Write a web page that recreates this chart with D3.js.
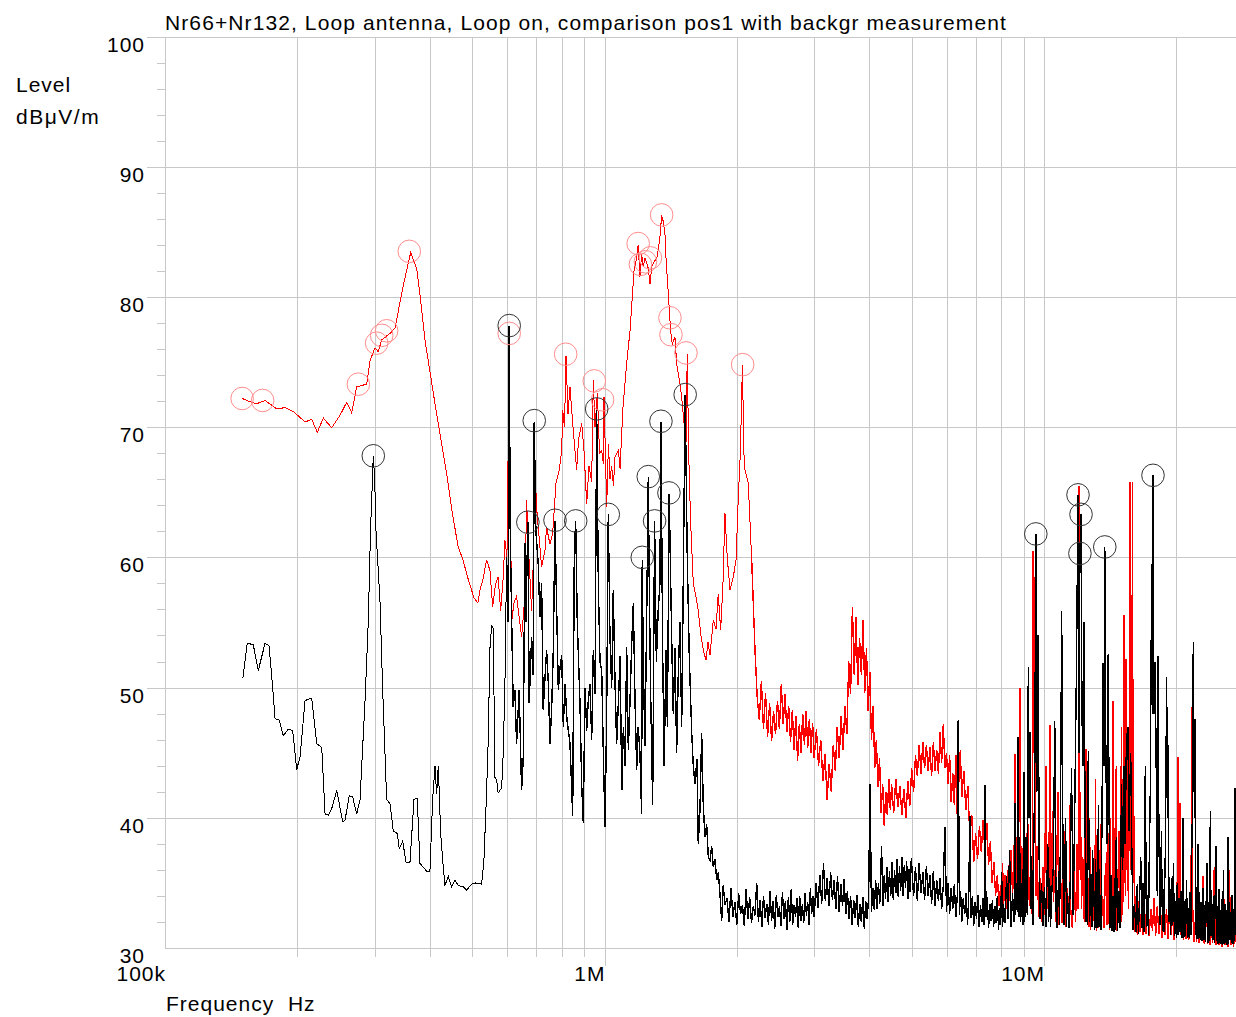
<!DOCTYPE html>
<html>
<head>
<meta charset="utf-8">
<script src="https://cdn.jsdelivr.net/npm/d3@7"></script>
<style>
html,body{margin:0;padding:0;background:#fff;}
svg{display:block;font-family:"Liberation Sans",Arial,sans-serif;}
text{white-space:pre;}
</style>
</head>
<body>
<script>
// chart texts
const title = "Nr66+Nr132, Loop antenna, Loop on, comparison pos1 with backgr measurement"
const yLabel = ["Level", "dBμV/m"]
const xLabel = "Frequency  Hz"
const yMajor = [30, 40, 50, 60, 70, 80, 90, 100]
const xLabels = [[0.1, "100k"], [1, "1M"], [10, "10M"]]

// [MHz, dBµV/m]  -- pos1 measurement (red)
const redLow = [[0.1500,72.2],[0.1575,71.9],[0.1617,71.8],[0.1689,72.05],[0.1796,71.4],[0.1876,71.5],[0.1959,71.2],[0.2083,70.4],[0.2157,70.6],[0.2221,69.6],[0.2292,70.7],[0.2395,69.95],[0.2501,70.9],[0.2590,71.9],[0.2660,71.1],[0.2730,73.1],[0.2877,73.3],[0.2927,75.1],[0.3005,76.1],[0.3056,75.8],[0.3112,76.7],[0.3250,77.2],[0.3337,77.6],[0.3485,80.9],[0.3622,83.4],[0.3737,82.2],[0.3803,80.2],[0.3904,76.7],[0.4150,71.0],[0.4374,66.4],[0.4497,63.6],[0.4639,60.9],[0.4763,59.8],[0.4889,58.4],[0.5045,56.9],[0.5152,56.5],[0.5207,57.5],[0.5289,58.3],[0.5392,59.8],[0.5487,59.0],[0.5565,56.2],[0.5648,57.9],[0.5728,58.5],[0.5803,55.9],[0.5883,58.5],[0.5936,61.3],[0.5998,60.0]]
const redMid = [[0.6044,70],[0.6070,77.2],[0.6102,66],[0.6147,55.0],[0.6221,56.5],[0.6309,57.0],[0.6395,55.4],[0.6477,53.9],[0.6591,57.0],[0.6649,64.4],[0.6705,61.1],[0.6826,55.9],[0.6883,59.5],[0.6945,67.7],[0.7000,64.0],[0.7067,62.3],[0.7193,59.3],[0.7319,60.5],[0.7383,62.3],[0.7516,61.0],[0.7623,61.9],[0.7756,65.7],[0.7891,66.7],[0.7991,68.2],[0.8033,71.3],[0.8110,70.0],[0.8173,75.5],[0.8259,71],[0.8346,73.1],[0.8465,70.3],[0.8568,68.2],[0.8644,66.7],[0.8725,69],[0.8874,70.3],[0.8982,68.2],[0.9109,64.1],[0.9220,67],[0.9351,65.8],[0.9430,73.6],[0.9515,70],[0.9633,72.6],[0.9742,68],[0.9855,68.2],[0.9938,67.2],[0.9974,72.3],[1.0115,63.9],[1.0209,68.7],[1.029,66.0],[1.0383,67.0],[1.0480,65.5],[1.0564,67.7],[1.0758,68.2],[1.085,66.8],[1.1004,71.3],[1.1232,74.9],[1.143,77.4],[1.1592,80.5],[1.1672,82.0],[1.1838,83.05],[1.1930,84.0],[1.204,81.5],[1.2148,83.3],[1.2251,82.3],[1.2360,83.0],[1.2577,82.2],[1.269,81.0],[1.2804,82.3],[1.3028,82.8],[1.3184,83.1],[1.337,84.6],[1.349,86.25],[1.3604,85.8],[1.3726,84.85],[1.3798,83.1],[1.389,81.5],[1.4034,79.2],[1.4142,77.4],[1.4262,76.4],[1.4465,76.9],[1.4593,74.9],[1.485,73.3],[1.4984,72.3],[1.5165,70.3],[1.5325,68.7],[1.5428,75.6],[1.5538,68.2],[1.569,63],[1.5924,58.0],[1.6149,57],[1.6343,55.9],[1.6577,54.0],[1.6779,52.9],[1.7017,52.1],[1.7196,53.5],[1.738,52.5],[1.7684,55.2],[1.7936,54.5],[1.8147,57.2],[1.8378,54.4],[1.860,58],[1.8797,63.4],[1.9022,60.0],[1.930,57.5],[1.9638,58.5],[1.9918,59.8],[2.0149,64.4],[2.0383,68.2],[2.0598,74.8],[2.0761,68],[2.0871,66.7],[2.1237,65.7],[2.1623,59.8]]
const redHigh = [[2.200,52.9],[2.225,49.3],[2.25,47.5],[2.275,50.5],[2.30,46.8],[2.325,49.6],[2.35,46.2],[2.375,48.8],[2.40,45.9],[2.425,48.2],[2.45,46.4],[2.475,49.0],[2.50,46.8],[2.525,50.3],[2.55,47.2],[2.575,49.5],[2.60,46.6],[2.625,48.6],[2.65,45.8],[2.675,48.3],[2.70,45.2],[2.725,47.8],[2.75,44.4],[2.775,47.2],[2.80,45.0],[2.825,48.0],[2.85,45.6],[2.875,48.2],[2.90,45.4],[2.925,47.6],[2.95,45.0],[2.975,47.3],[3.00,44.6],[3.035,46.8],[3.07,44.0],[3.105,46.0],[3.14,42.8],[3.175,44.9],[3.21,41.4],[3.245,44.1],[3.28,42.0],[3.315,45.6],[3.35,43.6],[3.385,47.0],[3.42,44.6],[3.455,47.8],[3.49,45.2],[3.525,48.6],[3.56,46.4],[3.595,52.0],[3.63,49.5],[3.665,56.2],[3.70,51.0],[3.735,55.4],[3.77,50.2],[3.805,53.8],[3.84,51.0],[3.875,55.2],[3.91,49.6],[3.945,53.0],[3.98,48.2],[4.015,51.2],[4.05,46.0],[4.085,48.6],[4.12,43.8],[4.155,46.0],[4.19,42.4],[4.225,44.6],[4.26,40.4],[4.295,42.6],[4.33,39.4],[4.365,42.0],[4.40,40.2],[4.435,43.0],[4.47,40.6],[4.50,42.6],[4.55,40.4],[4.60,43.0],[4.65,40.8],[4.70,42.4],[4.75,40.2],[4.80,42.2],[4.85,40.0],[4.90,42.8],[4.95,40.9],[5.00,43.8],[5.05,42.0],[5.10,44.8],[5.15,43.2],[5.20,45.6],[5.25,43.4],[5.30,45.8],[5.35,43.8],[5.40,45.6],[5.45,43.6],[5.50,45.4],[5.55,43.2],[5.60,45.8],[5.65,43.6],[5.70,45.2],[5.75,43.4],[5.80,46.6],[5.85,44.2],[5.90,47.2],[5.95,43.8],[6.00,45.0],[6.05,42.6],[6.10,44.8],[6.15,41.2],[6.20,43.4],[6.25,41.0],[6.30,44.8],[6.35,40.0],[6.40,42.8],[6.45,45.2],[6.50,41.6],[6.57,43.6],[6.64,40.6],[6.71,42.4],[6.78,38.6],[6.85,40.2],[6.92,36.6],[6.99,38.8],[7.06,36.8],[7.13,39.4],[7.20,37.4],[7.27,39.8],[7.34,37.2],[7.41,39.6],[7.48,36.4],[7.55,38.2],[7.62,35.0],[7.69,36.6],[7.76,34.0],[7.83,35.6],[7.90,33.2],[7.97,34.8],
[8.01,33.9],[8.05,36.5],[8.09,33.2],[8.16,35.6],[8.22,33.0],[8.30,36.4],[8.35,33.6],[8.42,37.5],[8.48,34.0],[8.55,36.8],[8.59,44.9],[8.63,34.0],[8.66,38.5],[8.72,33.5],[8.77,40.5],[8.81,50.0],[8.86,34.0],[8.90,37.8],[8.97,33.0],[9.04,36.4],[9.08,33.2],[9.12,38.0],[9.19,39.5],[9.26,33.2],[9.33,36.0],[9.40,32.6],[9.45,60.5],[9.48,45.0],[9.50,58.5],[9.54,51.1],[9.59,34.0],[9.64,37.8],[9.72,32.4],[9.79,35.4],[9.87,32.0],[9.95,36.2],[10.02,32.5],[10.10,44.0],[10.15,33.0],[10.2,36.8],[10.25,32.2],[10.31,47.1],[10.36,34.0],[10.4,32.2],[10.45,40.5],[10.5,33.5],[10.6,36.0],[10.65,32.0],[10.75,42.0],[10.8,31.8],[10.9,35.8],[11.0,31.9],[11.05,37.0],[11.1,32.0],[11.15,39.0],[11.2,31.6],[11.3,34.6],[11.4,31.8],[11.45,41.0],[11.5,33.0],[11.6,31.5],[11.7,36.1],[11.8,32.0],[11.9,38.0],[11.96,33.0],[12.00,65.5],[12.04,36.0],[12.1,42.0],[12.17,33.0],[12.25,37.0],[12.35,32.0],[12.46,45.3],[12.53,32.5],[12.6,34.5],[12.65,31.6],[12.7,40.0],[12.75,31.4],[12.8,34.2],[12.9,31.6],[13.0,35.0],[13.05,31.8],[13.1,43.0],[13.15,31.3],[13.2,34.2],[13.3,31.5],[13.4,35.6],[13.45,39.5],[13.5,31.6],[13.6,34.0],[13.7,31.5],[13.8,36.5],[13.9,31.8],[13.95,42.5],[14.0,33.0],[14.1,31.4],[14.15,40.0],[14.2,32.2],[14.3,31.5],[14.37,49.0],[14.45,32.0],[14.55,35.4],[14.6,44.0],[14.65,31.3],[14.75,36.0],[14.8,39.0],[14.85,31.6],[14.95,36.5],[15.0,47.0],[15.03,32.0],[15.10,43.0],[15.15,33.5],[15.20,55.6],[15.25,35.0],[15.30,46.0],[15.33,34.0],[15.36,52.2],[15.42,36.0],[15.50,47.0],[15.55,33.0],[15.62,40.0],[15.68,65.8],[15.72,38.0],[15.75,50.0],[15.79,36.0],[15.82,57.1],[15.86,40.0],[15.90,65.8],[15.95,35.0],[16.0,41.0],[16.1,31.2],[16.2,34.0],[16.3,31.0],[16.4,33.6],[16.55,31.2],[16.7,33.5],[16.8,31.0],[16.9,33.6],[17.05,31.1],[17.2,33.4],[17.35,30.9],[17.5,33.0],[17.65,31.3],[17.8,33.8],[17.95,30.9],[18.1,33.2],[18.25,31.1],[18.4,33.2],[18.55,30.8],[18.7,32.8],[18.85,31.0],[19.0,33.0],[19.15,30.7],[19.3,32.8],[19.45,31.0],[19.6,32.8],[19.75,30.6],[19.9,32.4],[20.05,30.8],[20.20,44.7],[20.25,33.0],[20.30,36.0],[20.34,32.0],[20.38,41.1],[20.45,31.0],[20.6,32.6],[20.75,30.6],[20.9,32.6],[21.05,30.7],[21.2,32.4],[21.35,30.6],[21.5,32.5],[21.6,31.0],[21.67,48.5],[21.72,32.0],[21.8,33.0],[21.95,30.5],[22.1,32.2],[22.25,30.5],[22.4,38.0],[22.55,30.4],[22.7,32.0],[22.85,30.6],[23.0,35.5],[23.15,30.3],[23.3,31.8],[23.44,34.5],[23.55,30.3],[23.7,32.0],[23.85,30.2],[24.0,31.6],[24.2,30.4],[24.4,36.2],[24.6,30.2],[24.8,31.6],[25.0,30.2],[25.2,31.7],[25.4,30.1],[25.6,35.0],[25.8,30.2],[26.0,31.5],[26.2,30.1],[26.4,36.0],[26.6,30.2],[26.8,31.5],[27.0,30.1],[27.2,31.4],[27.4,30.3]]

// [MHz, dBµV/m]  -- background measurement (black)
const bgLow = [[0.1503,50.7],[0.1539,53.4],[0.1588,53.3],[0.1630,51.3],[0.1689,53.4],[0.1725,53.2],[0.1759,49.9],[0.1780,47.6],[0.1820,47.5],[0.1859,46.3],[0.1908,46.8],[0.1952,46.7],[0.1994,43.7],[0.2029,44.7],[0.2083,49.0],[0.2157,49.2],[0.2214,45.7],[0.2273,45.4],[0.2313,40.3],[0.2353,40.2],[0.2395,40.7],[0.2459,42.1],[0.2537,39.7],[0.2568,39.8],[0.2625,41.7],[0.2673,41.6],[0.2730,40.3],[0.2778,41.4],[0.2852,49.0],[0.2902,55.2],[0.2935,62],[0.2978,67.8],[0.3000,66],[0.3021,62],[0.3084,56.7],[0.3128,49.9],[0.3194,41.4],[0.3250,41.1],[0.3307,39.0],[0.3376,38.8],[0.3412,37.65],[0.3474,38.2],[0.3535,36.6],[0.3609,36.6],[0.3686,41.4],[0.3749,41.5],[0.3803,36.5],[0.3939,35.9],[0.4007,35.9],[0.4064,41.4],[0.4114,44.0],[0.4150,41.8],[0.4186,44.0],[0.4239,38.8],[0.4297,36.2],[0.4335,34.8],[0.4411,35.5],[0.4490,34.7],[0.4568,35.2],[0.4648,34.8],[0.4771,34.7],[0.4856,34.45],[0.4985,34.9],[0.5072,35.0],[0.5254,34.9],[0.5317,36.75],[0.5392,42],[0.5438,46],[0.5487,53],[0.5536,54.8],[0.5583,54.5],[0.5633,43.1],[0.5683,42.9],[0.5728,41.9],[0.5834,42.3],[0.5883,45.0],[0.5936,50.3],[0.5988,60]]
const bgMid = [[0.6038,55],[0.6070,77.8],[0.6102,62],[0.6147,55.4],[0.6199,48.5],[0.6254,49.8],[0.6309,45.7],[0.6395,49.8],[0.6477,42.1],[0.6532,44.5],[0.6591,61.1],[0.6625,55],[0.6693,62.7],[0.6740,48.8],[0.6826,53.9],[0.6883,51],[0.6920,70.4],[0.6981,62],[0.7067,59.5],[0.7129,55.4],[0.7193,58],[0.7254,48.3],[0.7383,52.9],[0.7447,50.5],[0.7516,45.7],[0.7584,48.5],[0.7648,52.9],[0.7716,62.8],[0.7784,56],[0.7851,49.8],[0.7920,51.5],[0.7991,52.5],[0.8059,47],[0.8131,50.3],[0.8216,47.5],[0.8346,45.7],[0.8465,40.1],[0.8537,60.5],[0.8599,62.8],[0.8671,55],[0.8795,48.8],[0.8874,42.5],[0.8949,39.6],[0.9029,50],[0.9109,46.7],[0.9186,49],[0.9268,50.3],[0.9351,46],[0.9430,52.9],[0.9515,49.5],[0.9599,71.3],[0.9681,58],[0.9767,52],[0.9855,51.3],[0.9938,45],[1.0027,39.3],[1.0115,48],[1.020,63.3],[1.029,53.9],[1.0383,50],[1.047,57.5],[1.0564,50.5],[1.0657,45.7],[1.0758,49],[1.085,52.4],[1.0948,42.1],[1.104,47],[1.1139,44],[1.1232,53.1],[1.133,45.2],[1.143,49],[1.1533,53.4],[1.163,56.5],[1.1734,49],[1.1838,43.7],[1.1930,47],[1.204,45],[1.2148,40.3],[1.2186,59.8],[1.2251,52],[1.2360,45.5],[1.247,55],[1.2577,66.2],[1.2643,58],[1.2728,50],[1.287,41],[1.3001,62.8],[1.3121,52],[1.3252,56],[1.337,58],[1.3441,70.4],[1.356,52.9],[1.3673,44],[1.3798,52.9],[1.3903,47],[1.4034,64.9],[1.4217,53.9],[1.4337,48],[1.4465,53],[1.4593,45],[1.4718,51],[1.485,55],[1.4984,47],[1.5085,56],[1.526,72.5],[1.5428,60],[1.5592,52.4],[1.5791,46.5],[1.5924,44],[1.6066,42.6],[1.6231,44.5],[1.6343,38],[1.649,40.6],[1.6638,46.5],[1.6779,41],[1.6929,38.5],[1.7079,39.5],[1.7227,37],[1.738,36.75],[1.7536,37.8],[1.7684,36.2],[1.7842,36.8],[1.800,35.2],[1.8147,35.8],[1.831,34.2],[1.8475,32.1],[1.863,34.8],[1.8797,33.3]]
const bgHigh = [[1.90,33.8],[1.92,32.0],[1.94,34.6],[1.96,32.4],[1.98,33.5],[2.00,31.8],[2.02,34.2],[2.04,32.6],[2.06,33.3],[2.08,31.7],[2.10,34.5],[2.12,32.2],[2.14,33.9],[2.16,31.9],[2.18,33.2],[2.20,32.5],[2.22,35.0],[2.24,32.0],[2.26,33.7],[2.28,31.6],[2.30,34.0],[2.32,32.3],[2.34,33.4],[2.36,31.8],[2.38,34.4],[2.40,32.1],[2.42,33.6],[2.44,31.5],[2.46,34.1],[2.48,32.4],[2.50,33.2],[2.52,31.7],[2.54,34.3],[2.56,32.2],[2.58,33.6],[2.60,31.4],[2.62,33.9],[2.64,32.0],[2.66,34.5],[2.68,31.8],[2.70,33.3],[2.72,32.4],[2.74,33.8],[2.76,31.5],[2.78,34.0],[2.80,32.1],[2.82,33.4],[2.84,31.9],[2.86,34.2],[2.88,32.5],[2.90,33.5],[2.92,31.8],[2.94,34.6],[2.96,32.6],[2.98,34.0],[3.00,32.4],[3.03,35.0],[3.06,33.1],[3.09,35.6],[3.12,33.4],[3.15,36.5],[3.18,33.6],[3.21,35.4],[3.24,33.2],[3.27,35.8],[3.30,33.7],[3.33,35.2],[3.36,33.0],[3.39,35.5],[3.42,32.8],[3.45,34.9],[3.48,33.2],[3.51,35.3],[3.54,32.6],[3.57,34.4],[3.60,32.2],[3.63,34.0],[3.66,31.8],[3.69,33.7],[3.72,32.3],[3.75,34.1],[3.78,31.6],[3.81,33.4],[3.84,32.0],[3.87,33.9],[3.90,31.5],[3.93,33.6],[3.96,32.2],[3.99,34.0],[4.02,42.6],[4.05,32.8],[4.08,34.6],[4.11,32.9],[4.14,35.2],[4.17,33.0],[4.20,35.0],[4.23,33.4],[4.27,37.8],[4.30,33.2],[4.33,35.6],[4.36,33.8],[4.39,36.2],[4.42,33.5],[4.45,35.9],[4.48,34.0],[4.51,36.6],[4.54,33.7],[4.57,36.0],[4.60,34.2],[4.63,36.8],[4.66,33.9],[4.69,36.3],[4.72,34.4],[4.75,37.0],[4.78,34.0],[4.81,36.4],[4.84,34.6],[4.87,36.7],[4.90,33.8],[4.93,36.1],[4.96,34.3],[4.99,36.9],[5.05,34.0],[5.10,36.2],[5.15,33.6],[5.20,36.5],[5.25,34.2],[5.30,35.8],[5.35,33.7],[5.40,36.3],[5.45,34.0],[5.50,35.6],[5.55,33.4],[5.60,35.9],[5.65,33.2],[5.70,35.2],[5.75,33.6],[5.80,35.4],[5.85,33.0],[5.90,34.8],[5.95,39.3],[6.00,32.8],[6.05,35.0],[6.10,32.6],[6.15,34.6],[6.20,33.0],[6.25,34.9],[6.30,32.4],[6.35,34.0],[6.38,47.5],[6.42,32.5],[6.46,34.4],[6.50,32.0],[6.55,33.8],[6.60,32.6],[6.65,34.2],[6.70,31.8],[6.74,33.6],[6.78,40.1],[6.82,32.3],[6.87,34.0],[6.92,31.7],[6.97,33.5],[7.02,32.2],[7.07,34.1],[7.12,31.6],[7.17,33.3],[7.22,32.0],[7.27,33.8],[7.31,31.8],[7.34,42.5],[7.38,32.4],[7.43,33.9],[7.48,31.5],[7.53,33.4],[7.58,32.1],[7.63,33.7],[7.68,31.6],[7.73,33.2],[7.78,31.9],[7.83,34.0],[7.88,31.4],[7.93,33.1],[7.97,31.8],[8.01,35.8],[8.05,31.6],
[8.09,33.4],[8.15,31.9],[8.22,35.5],[8.28,32.2],[8.35,37.5],[8.42,31.6],[8.48,34.2],[8.55,32.0],[8.59,41.1],[8.62,32.5],[8.66,35.0],[8.70,32.8],[8.73,46.2],[8.77,32.4],[8.80,38.5],[8.85,32.0],[8.90,35.0],[8.95,31.8],[9.0,43.5],[9.04,32.0],[9.10,38.5],[9.16,32.5],[9.21,51.6],[9.25,40.0],[9.29,46.6],[9.35,33.0],[9.40,36.0],[9.44,31.8],[9.48,38.0],[9.53,44.0],[9.58,61.8],[9.63,42.0],[9.70,54.0],[9.75,37.0],[9.79,32.2],[9.87,35.0],[9.95,31.7],[10.02,34.7],[10.1,31.6],[10.2,38.0],[10.25,32.0],[10.3,35.4],[10.35,31.6],[10.4,33.9],[10.5,36.2],[10.58,47.4],[10.65,33.0],[10.72,31.5],[10.8,35.9],[10.85,31.8],[10.9,39.0],[10.97,55.9],[11.05,36.0],[11.1,31.8],[11.2,40.0],[11.25,31.6],[11.3,34.2],[11.4,31.5],[11.47,34.8],[11.55,43.8],[11.65,32.5],[11.75,41.0],[11.86,52.2],[11.95,64.8],[12.01,45.0],[12.07,60.3],[12.14,63.3],[12.2,48.0],[12.27,44.0],[12.33,55.0],[12.4,40.0],[12.45,32.0],[12.5,36.5],[12.55,31.8],[12.61,45.1],[12.7,32.0],[12.8,35.7],[12.85,31.6],[12.9,37.5],[13.0,33.5],[13.05,31.4],[13.1,36.8],[13.2,31.5],[13.25,35.0],[13.3,41.0],[13.35,31.6],[13.4,34.1],[13.48,31.4],[13.55,40.0],[13.63,51.9],[13.70,44.0],[13.75,60.8],[13.82,46.0],[13.90,38.0],[14.00,52.6],[14.08,38.0],[14.14,31.5],[14.2,35.6],[14.28,31.3],[14.35,34.0],[14.42,31.2],[14.5,35.4],[14.55,31.4],[14.6,38.5],[14.7,31.3],[14.8,34.4],[14.9,31.5],[15.01,42.6],[15.10,36.0],[15.20,44.0],[15.30,38.0],[15.40,46.0],[15.52,47.0],[15.60,39.0],[15.75,45.0],[15.85,37.0],[15.95,31.4],[16.05,33.4],[16.2,31.2],[16.3,34.9],[16.4,31.1],[16.5,33.8],[16.6,37.0],[16.7,31.5],[16.8,35.0],[16.9,31.2],[17.0,44.0],[17.1,31.6],[17.2,34.1],[17.28,31.0],[17.35,36.4],[17.45,42.0],[17.58,59.5],[17.65,48.0],[17.70,66.3],[17.78,48.0],[17.9,52.0],[18.0,44.0],[18.1,34.0],[18.19,52.4],[18.25,40.0],[18.35,31.8],[18.42,34.0],[18.5,39.0],[18.6,31.3],[18.68,34.5],[18.75,31.2],[18.82,35.0],[18.9,38.0],[19.01,50.8],[19.1,40.0],[19.17,45.6],[19.25,32.0],[19.35,34.5],[19.42,31.0],[19.5,35.4],[19.6,31.8],[19.7,36.5],[19.8,30.9],[19.9,33.6],[20.0,30.8],[20.1,35.0],[20.2,31.0],[20.3,33.8],[20.4,31.2],[20.5,34.4],[20.6,30.8],[20.7,40.0],[20.8,30.8],[20.9,33.6],[21.0,30.9],[21.1,35.2],[21.2,30.8],[21.3,33.1],[21.4,30.8],[21.5,34.3],[21.6,31.0],[21.65,36.0],[21.75,40.0],[21.86,53.5],[21.95,42.0],[22.05,47.6],[22.12,31.0],[22.2,34.7],[22.3,30.7],[22.4,38.0],[22.5,30.7],[22.6,34.3],[22.7,30.6],[22.8,33.5],[22.9,30.5],[23.0,34.6],[23.1,30.6],[23.2,33.3],[23.3,30.5],[23.4,33.8],[23.5,36.5],[23.6,30.4],[23.7,33.5],[23.8,30.5],[23.9,40.5],[24.0,30.9],[24.1,33.4],[24.2,30.6],[24.3,34.0],[24.4,30.4],[24.5,33.0],[24.6,37.8],[24.7,30.5],[24.8,33.2],[24.9,30.3],[25.0,34.5],[25.1,30.4],[25.2,32.9],[25.3,30.3],[25.4,33.8],[25.5,30.2],[25.6,36.0],[25.7,30.3],[25.8,33.4],[25.9,30.4],[26.0,32.9],[26.1,30.2],[26.2,38.5],[26.3,30.3],[26.4,33.5],[26.5,30.6],[26.6,32.8],[26.7,30.4],[26.8,34.1],[26.9,30.3],[27.0,33.0],[27.1,30.5],[27.18,42.3],[27.3,31.0],[27.4,33.2]]

// peak markers [MHz, dBµV/m]
const redPeaks = [[0.1498,72.2],[0.1668,72.05],[0.2754,73.3],[0.3031,76.45],[0.3112,77.05],[0.3194,77.4],[0.3596,83.5],[0.6070,77.2],[0.8160,75.6],[0.9479,73.55],[0.9900,72.1],[1.193,84.1],[1.207,82.5],[1.239,82.7],[1.272,83.0],[1.349,86.3],[1.409,78.4],[1.4165,77.1],[1.5325,75.7],[2.062,74.8]]
const bgPeaks = [[0.2978,67.8],[0.6070,77.8],[0.6693,62.7],[0.6920,70.5],[0.7716,62.85],[0.8599,62.8],[0.9599,71.4],[1.020,63.3],[1.2186,60.0],[1.2577,66.2],[1.3001,62.8],[1.3441,70.45],[1.4016,64.95],[1.526,72.5],[9.58,61.8],[11.95,64.8],[12.14,63.3],[12.07,60.3],[13.75,60.8],[17.70,66.3]]

const width = 1236, height = 1017
const gridColor = "#c8c8c8"
const plotTop = 36.5, plotBottom = 948, plotLeft = 165

const x = d3.scaleLog().domain([0.1, 30]).range([plotLeft, 1253.7])
const y = d3.scaleLinear().domain([30, 100]).range([plotBottom, plotTop])

const svg = d3.select("body").append("svg")
  .attr("width", width)
  .attr("height", height)
  .attr("viewBox", [0, 0, width, height])

const isDecade = v => Math.abs(Math.log10(v) - Math.round(Math.log10(v))) < 1e-6

// vertical grid (1..9 per decade)
const xt = x.ticks().filter(v => v < 28)
svg.append("g")
  .attr("shape-rendering", "crispEdges")
  .selectAll("line")
  .data(xt)
  .join("line")
  .attr("x1", d => Math.round(x(d)) + 0.5)
  .attr("x2", d => Math.round(x(d)) + 0.5)
  .attr("y1", plotTop)
  .attr("y2", d => d === 0.1 ? plotBottom : (isDecade(d) ? 966 : 957))
  .attr("stroke", gridColor)

// horizontal grid
svg.append("g")
  .attr("shape-rendering", "crispEdges")
  .selectAll("line")
  .data(yMajor)
  .join("line")
  .attr("x1", d => d === 30 ? plotLeft : 147)
  .attr("x2", width)
  .attr("y1", d => Math.round(y(d)) + 0.5)
  .attr("y2", d => Math.round(y(d)) + 0.5)
  .attr("stroke", gridColor)

// minor y ticks every 2 dB
const yMinor = d3.range(32, 100, 2).filter(v => v % 10)
svg.append("g")
  .attr("shape-rendering", "crispEdges")
  .selectAll("line")
  .data(yMinor)
  .join("line")
  .attr("x1", 157).attr("x2", plotLeft)
  .attr("y1", d => Math.round(y(d)) + 0.5)
  .attr("y2", d => Math.round(y(d)) + 0.5)
  .attr("stroke", gridColor)

const txt = (s, px, py, anchor, ls) => svg.append("text")
  .text(s)
  .attr("x", px).attr("y", py)
  .attr("text-anchor", anchor || "start")
  .attr("font-size", 21)
  .attr("letter-spacing", ls || 1)
  .attr("fill", "#000")

yMajor.forEach(v => txt(String(v), 145, y(v) + 15, "end"))
xLabels.forEach(([v, s]) => txt(s, x(v) + 1, 981, "end"))
txt(yLabel[0], 16, 91.5)
txt(yLabel[1], 16, 124, "start", 1.5)
txt(xLabel, 166, 1011)
txt(title, 165, 29.5, "start", 1.1)

const line = d3.line().x(d => x(d[0])).y(d => y(d[1]))

// thin smooth parts, then the dense noisy parts a bit heavier
const trace = (data, color, w) => svg.append("path")
  .datum(data)
  .attr("d", line)
  .attr("fill", "none")
  .attr("stroke", color)
  .attr("stroke-width", w)
  .attr("shape-rendering", "crispEdges")

trace(redLow.concat(redMid), "#ff0000", 1)
trace(redMid.slice(-1).concat(redHigh), "#ff0000", 1.4)
trace(bgLow, "#000", 1)
trace(bgLow.slice(-1).concat(bgMid, bgHigh), "#000", 1.4)

svg.append("g").selectAll("circle")
  .data(redPeaks)
  .join("circle")
  .attr("cx", d => x(d[0])).attr("cy", d => y(d[1]))
  .attr("r", 11.3)
  .attr("fill", "none")
  .attr("stroke", "#ff8c8c")

svg.append("g").selectAll("circle")
  .data(bgPeaks)
  .join("circle")
  .attr("cx", d => x(d[0])).attr("cy", d => y(d[1]))
  .attr("r", 11.3)
  .attr("fill", "none")
  .attr("stroke", "#333")
</script>
</body>
</html>
